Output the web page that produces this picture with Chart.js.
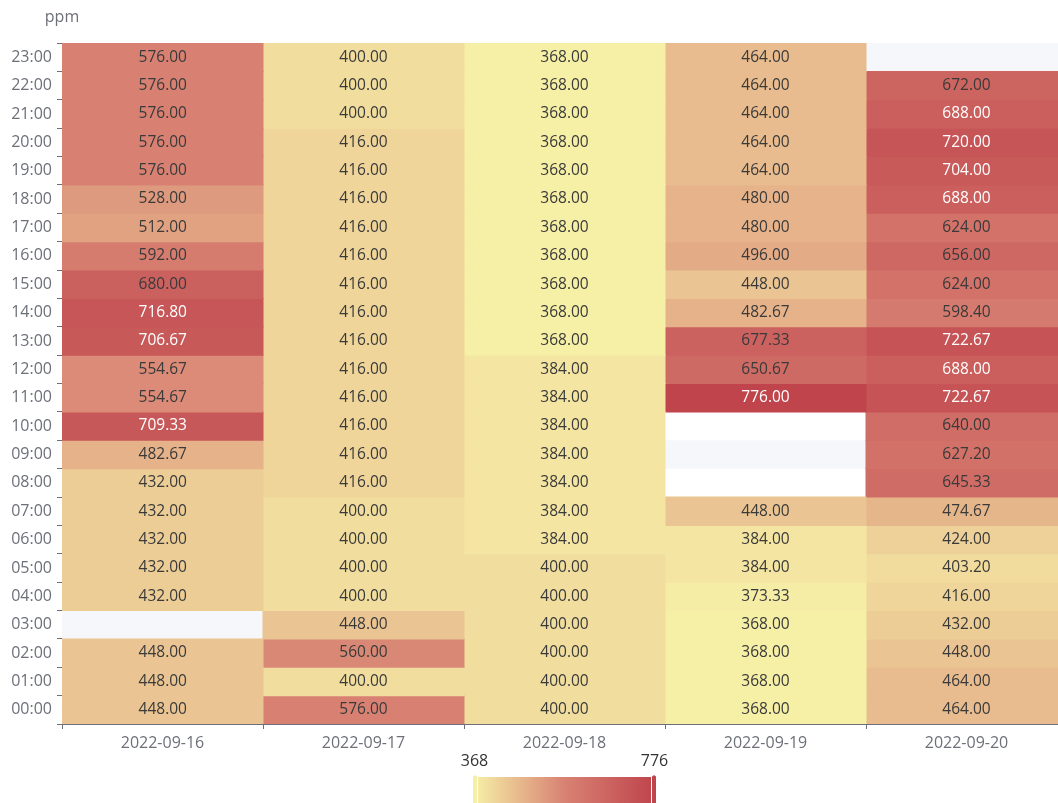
<!DOCTYPE html>
<html>
<head>
<meta charset="utf-8">
<script src="https://cdn.jsdelivr.net/npm/chart.js@4/dist/chart.umd.min.js"></script>
<style>
  html, body { margin: 0; padding: 0; background: #fff; overflow: hidden; }
  #wrap { width: 1058px; height: 803px; overflow: hidden; }
</style>
</head>
<body>
<div id="wrap"><canvas id="heat" width="1129" height="803"></canvas></div>
<script>
// one array per day, index = hour of day, null = no reading
var days = ['2022-09-16', '2022-09-17', '2022-09-18', '2022-09-19', '2022-09-20'];
var hours = ['00:00', '01:00', '02:00', '03:00', '04:00', '05:00', '06:00', '07:00',
             '08:00', '09:00', '10:00', '11:00', '12:00', '13:00', '14:00', '15:00',
             '16:00', '17:00', '18:00', '19:00', '20:00', '21:00', '22:00', '23:00'];

var ppm0916 = [448, 448, 448, null, 432, 432, 432, 432, 432, 482.67, 709.33, 554.67,
               554.67, 706.67, 716.80, 680, 592, 512, 528, 576, 576, 576, 576, 576];
var ppm0917 = [576, 400, 560, 448, 400, 400, 400, 400, 416, 416, 416, 416,
               416, 416, 416, 416, 416, 416, 416, 416, 416, 400, 400, 400];
var ppm0918 = [400, 400, 400, 400, 400, 400, 384, 384, 384, 384, 384, 384,
               384, 368, 368, 368, 368, 368, 368, 368, 368, 368, 368, 368];
var ppm0919 = [368, 368, 368, 368, 373.33, 384, 384, 448, null, null, null, 776,
               650.67, 677.33, 482.67, 448, 496, 480, 480, 464, 464, 464, 464, 464];
var ppm0920 = [464, 464, 448, 432, 416, 403.20, 424, 474.67, 645.33, 627.20, 640, 722.67,
               688, 722.67, 598.40, 624, 656, 624, 688, 704, 720, 688, 672, null];
var ppmByDay = [ppm0916, ppm0917, ppm0918, ppm0919, ppm0920];

var rangeMin = 368, rangeMax = 776;
var rampColors = ['#f6efa6', '#d88273', '#bf444c'];

var axisGrey = '#6e7079';
var fontFamily = "'Open Sans', 'Noto Sans', sans-serif";

function hexRgb(h) {
    return [parseInt(h.substr(1, 2), 16), parseInt(h.substr(3, 2), 16), parseInt(h.substr(5, 2), 16)];
}

function colorFor(v) {
    var t = (v - rangeMin) / (rangeMax - rangeMin);
    t = Math.max(0, Math.min(1, t));
    var seg = t * (rampColors.length - 1);
    var i = Math.min(Math.floor(seg), rampColors.length - 2);
    var f = seg - i;
    var a = hexRgb(rampColors[i]), b = hexRgb(rampColors[i + 1]);
    var c = a.map(function(x, k) { return Math.round(x + (b[k] - x) * f); });
    return 'rgb(' + c.join(',') + ')';
}

// light band behind every other hour row
var splitArea = {
    id: 'splitArea',
    beforeDatasetsDraw: function(chart) {
        var ctx = chart.ctx, y = chart.scales.y, area = chart.chartArea;
        var half = y.height / hours.length / 2;
        ctx.save();
        ctx.fillStyle = '#f5f7fb';
        hours.forEach(function(h, i) {
            if (i % 2 === 1) {
                var c = y.getPixelForValue(i);
                ctx.fillRect(area.left, c - half, area.right - area.left, half * 2);
            }
        });
        ctx.restore();
    }
};

// value text inside each cell
var cellLabels = {
    id: 'cellLabels',
    afterDatasetsDraw: function(chart) {
        var ctx = chart.ctx;
        ctx.save();
        ctx.font = '15.5px ' + fontFamily;
        ctx.textAlign = 'center';
        ctx.textBaseline = 'middle';
        chart.data.datasets.forEach(function(ds, d) {
            chart.getDatasetMeta(d).data.forEach(function(el, i) {
                var v = ppmByDay[d][i];
                if (v == null) return;
                var p = el.getCenterPoint();
                ctx.fillStyle = v >= 685 ? '#ffffff' : '#3a3a3a';
                ctx.fillText(v.toFixed(2), p.x, p.y);
            });
        });
        ctx.restore();
    }
};

// axis name and the colour range legend under the chart
var extras = {
    id: 'extras',
    afterDraw: function(chart) {
        var ctx = chart.ctx, area = chart.chartArea;
        ctx.save();
        ctx.font = '16px ' + fontFamily;
        ctx.textAlign = 'center';
        ctx.textBaseline = 'middle';
        ctx.fillStyle = axisGrey;
        ctx.fillText('ppm', area.left, 17);

        var mid = (area.left + area.right) / 2;
        var w = 180, top = 777, h = 26;
        var x0 = mid - w / 2, x1 = mid + w / 2;
        var grad = ctx.createLinearGradient(x0, 0, x1, 0);
        rampColors.forEach(function(c, i) { grad.addColorStop(i / (rampColors.length - 1), c); });
        ctx.fillStyle = grad;
        ctx.fillRect(x0, top, w, h);

        ctx.fillStyle = rampColors[0];
        ctx.beginPath(); ctx.roundRect(x0 - 2, top - 2, 5, h + 4, 2); ctx.fill();
        ctx.strokeStyle = '#ffffff'; ctx.lineWidth = 1; ctx.stroke();
        ctx.fillStyle = rampColors[rampColors.length - 1];
        ctx.beginPath(); ctx.roundRect(x1 - 3, top - 2, 5, h + 4, 2); ctx.fill();
        ctx.stroke();

        ctx.fillStyle = '#333333';
        ctx.fillText(String(rangeMin), x0, 761);
        ctx.fillText(String(rangeMax), x1, 761);
        ctx.restore();
    }
};

var datasets = days.map(function(day, d) {
    return {
        label: day,
        data: ppmByDay[d].map(function(v) { return v == null ? null : [d, d + 1]; }),
        backgroundColor: function(c) { return colorFor(ppmByDay[d][c.dataIndex]); },
        grouped: false,
        barPercentage: 1,
        categoryPercentage: 1,
        borderWidth: 0,
        inflateAmount: 0.5
    };
});

new Chart(document.getElementById('heat'), {
    type: 'bar',
    data: { labels: hours, datasets: datasets },
    options: {
        responsive: false,
        animation: false,
        indexAxis: 'y',
        layout: { padding: { top: 43, right: 62, bottom: 0, left: 0 } },
        plugins: { legend: { display: false }, tooltip: { enabled: false } },
        scales: {
            x: {
                type: 'linear',
                min: 0,
                max: 5,
                afterFit: function(s) { s.height = 79; },
                border: { display: true, color: axisGrey },
                grid: { drawOnChartArea: false, tickLength: 5, color: axisGrey },
                ticks: {
                    stepSize: 1,
                    autoSkip: false,
                    maxRotation: 0,
                    labelOffset: 100.5,
                    padding: 5,
                    color: axisGrey,
                    font: { size: 16, family: fontFamily },
                    callback: function(v) { return days[v] || ''; }
                }
            },
            y: {
                type: 'category',
                reverse: true,
                offset: true,
                afterFit: function(s) { s.width = 62; },
                border: { display: true, color: axisGrey },
                grid: { offset: true, drawOnChartArea: false, tickLength: 5, color: axisGrey },
                ticks: {
                    autoSkip: false,
                    padding: 5,
                    color: axisGrey,
                    font: { size: 16, family: fontFamily }
                }
            }
        }
    },
    plugins: [splitArea, cellLabels, extras]
});
</script>
</body>
</html>
